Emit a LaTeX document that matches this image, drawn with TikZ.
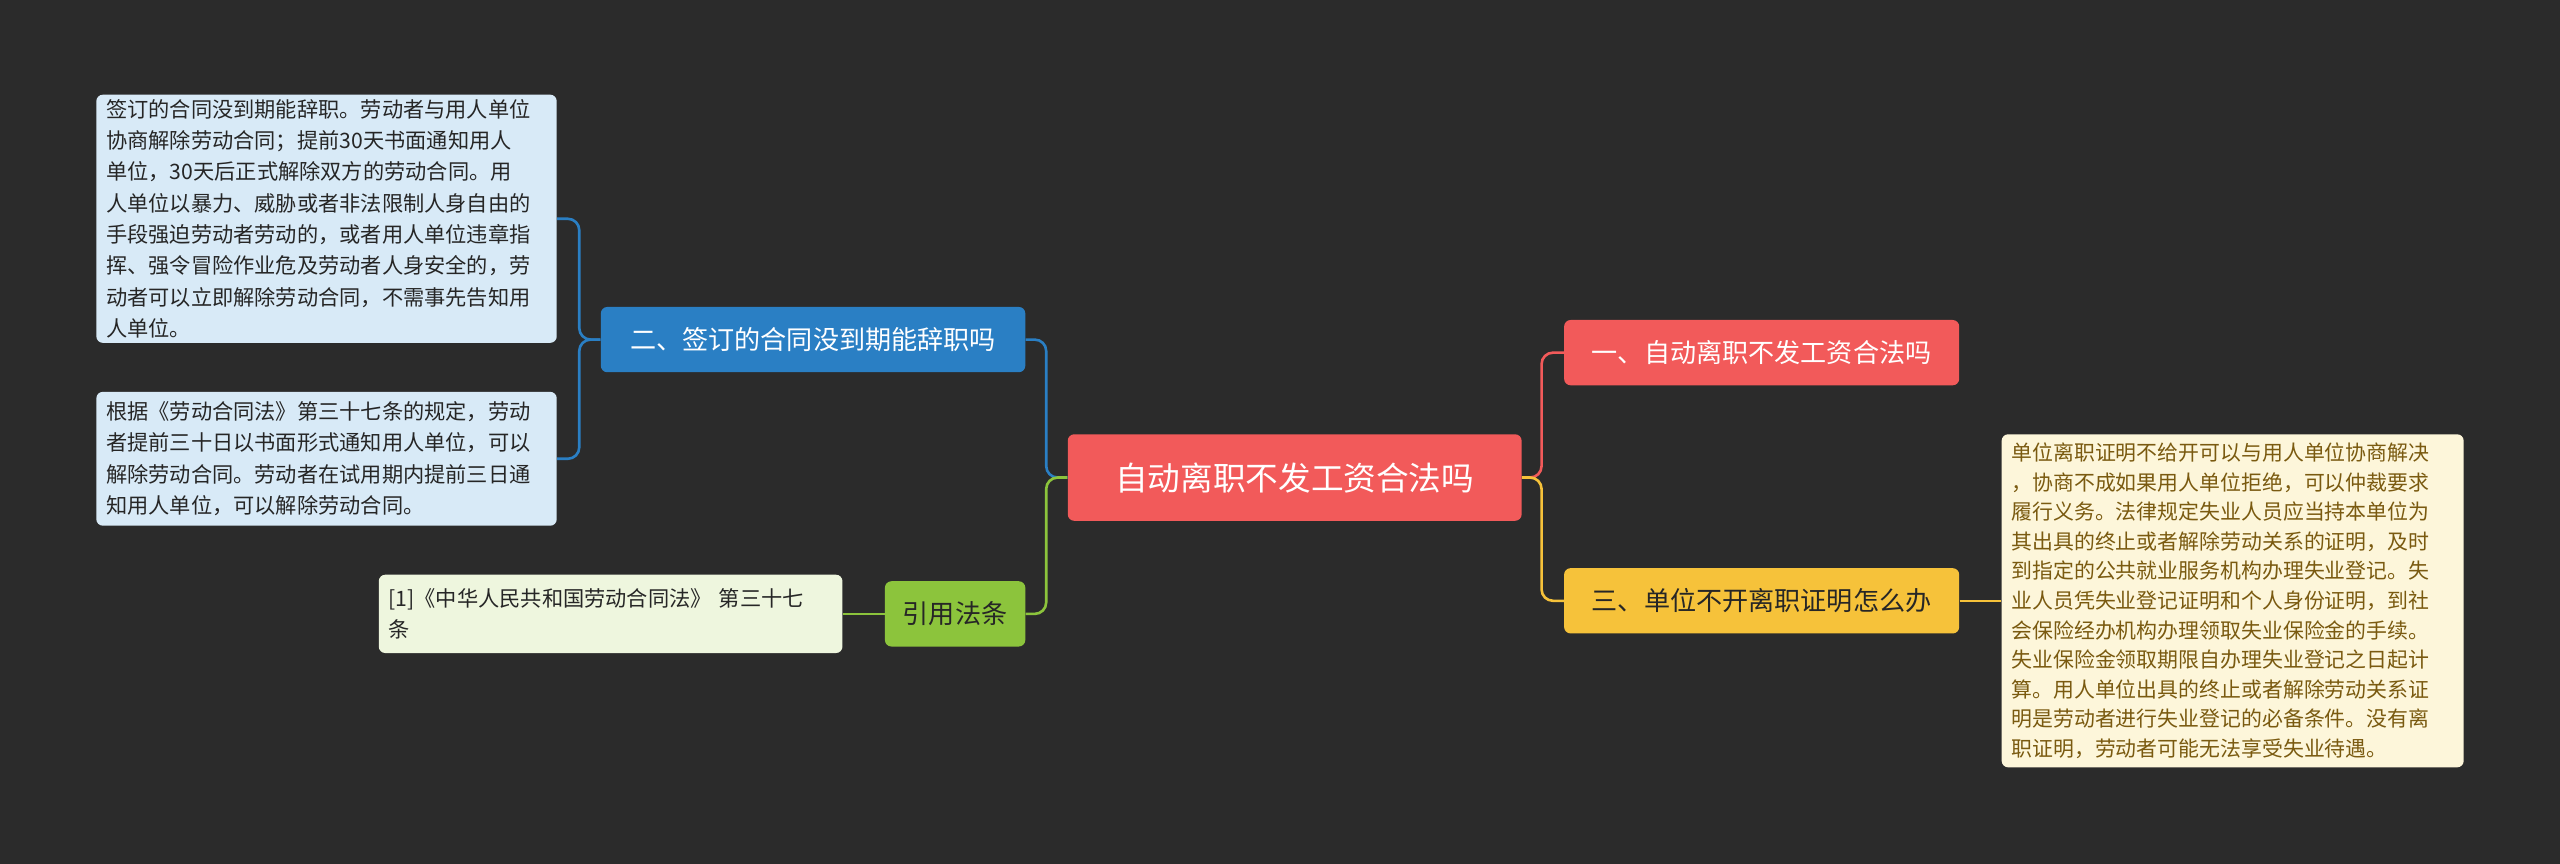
\documentclass[tikz,border=0pt]{standalone}
\usepackage{fontspec}
\setmainfont{Noto Sans CJK SC}
\usetikzlibrary{calc}
\definecolor{bg}{HTML}{2B2B2B}
\definecolor{cred}{HTML}{F25A5A}
\definecolor{cyel}{HTML}{F6C23A}
\definecolor{cblue}{HTML}{2A7FC4}
\definecolor{cgreen}{HTML}{8CC43C}
\definecolor{lblue}{HTML}{D8EAF7}
\definecolor{lyel}{HTML}{FDF6DA}
\definecolor{lgreen}{HTML}{EEF6DE}
\definecolor{tbrown}{HTML}{7A5A10}
\tikzset{
 box/.style={rounded corners=4pt, inner sep=0pt, align=center},
 leaf/.style={rounded corners=4pt, inner xsep=6pt, inner ysep=0pt, align=left, font=\fontsize{13}{19.2}\selectfont, text=black!85},
 con/.style={line width=1.6pt, rounded corners=7pt},
}
\begin{document}
\begin{tikzpicture}[x=1pt,y=-1pt]
\fill[bg] (0,0) rectangle (1568,529);
\useasboundingbox (0,0) rectangle (1568,529);
\node[box, fill=cred, text=white, minimum width=278pt, minimum height=53pt, font=\fontsize{20}{24}\selectfont] (c) at (793,292.5) {自动离职不发工资合法吗};
\node[box, fill=cred, text=white, minimum width=242pt, minimum height=40pt, font=\fontsize{16}{20}\selectfont] (r1) at (1079,216) {一、自动离职不发工资合法吗};
\node[box, fill=cyel, text=black!85, minimum width=242pt, minimum height=40pt, font=\fontsize{16}{20}\selectfont] (r3) at (1079,368) {三、单位不开离职证明怎么办};
\node[leaf, fill=lyel, text=tbrown, text width=271pt, minimum height=204pt, font=\fontsize{12.8}{18.1}\selectfont] (rt) at (1367.5,368) {单位离职证明不给开可以与用人单位协商解决\\，协商不成如果用人单位拒绝，可以仲裁要求\\履行义务。法律规定失业人员应当持本单位为\\其出具的终止或者解除劳动关系的证明，及时\\到指定的公共就业服务机构办理失业登记。失\\业人员凭失业登记证明和个人身份证明，到社\\会保险经办机构办理领取失业保险金的手续。\\失业保险金领取期限自办理失业登记之日起计\\算。用人单位出具的终止或者解除劳动关系证\\明是劳动者进行失业登记的必备条件。没有离\\职证明，劳动者可能无法享受失业待遇。};
\node[box, fill=cblue, text=white, minimum width=260pt, minimum height=40pt, font=\fontsize{16}{20}\selectfont] (l2) at (498,208) {二、签订的合同没到期能辞职吗};
\node[leaf, fill=lblue, text width=270pt, minimum height=152pt] (b1) at (200,134) {签订的合同没到期能辞职。劳动者与用人单位\\协商解除劳动合同；提前30天书面通知用人\\单位，30天后正式解除双方的劳动合同。用\\人单位以暴力、威胁或者非法限制人身自由的\\手段强迫劳动者劳动的，或者用人单位违章指\\挥、强令冒险作业危及劳动者人身安全的，劳\\动者可以立即解除劳动合同，不需事先告知用\\人单位。};
\node[leaf, fill=lblue, text width=270pt, minimum height=82pt] (b2) at (200,281) {根据《劳动合同法》第三十七条的规定，劳动\\者提前三十日以书面形式通知用人单位，可以\\解除劳动合同。劳动者在试用期内提前三日通\\知用人单位，可以解除劳动合同。};
\node[box, fill=cgreen, text=black!85, minimum width=86pt, minimum height=40pt, font=\fontsize{16}{20}\selectfont] (lg) at (585,376) {引用法条};
\node[leaf, fill=lgreen, text width=272pt, minimum height=48pt] (gt) at (374,376) {[1]《中华人民共和国劳动合同法》 第三十七\\条};
\draw[con, cred] (c.east) -- ++(12,0) |- (r1.west);
\draw[con, cyel] (c.east) -- ++(12,0) |- (r3.west);
\draw[con, cyel] (r3.east) -- (rt.west);
\draw[con, cblue] (c.west) -- ++(-13,0) |- (l2.east);
\draw[con, cgreen] (c.west) -- ++(-13,0) |- (lg.east);
\draw[con, cblue] (l2.west) -- ++(-13,0) |- (b1.east);
\draw[con, cblue] (l2.west) -- ++(-13,0) |- (b2.east);
\draw[con, cgreen] (lg.west) -- (gt.east);
\end{tikzpicture}
\end{document}
